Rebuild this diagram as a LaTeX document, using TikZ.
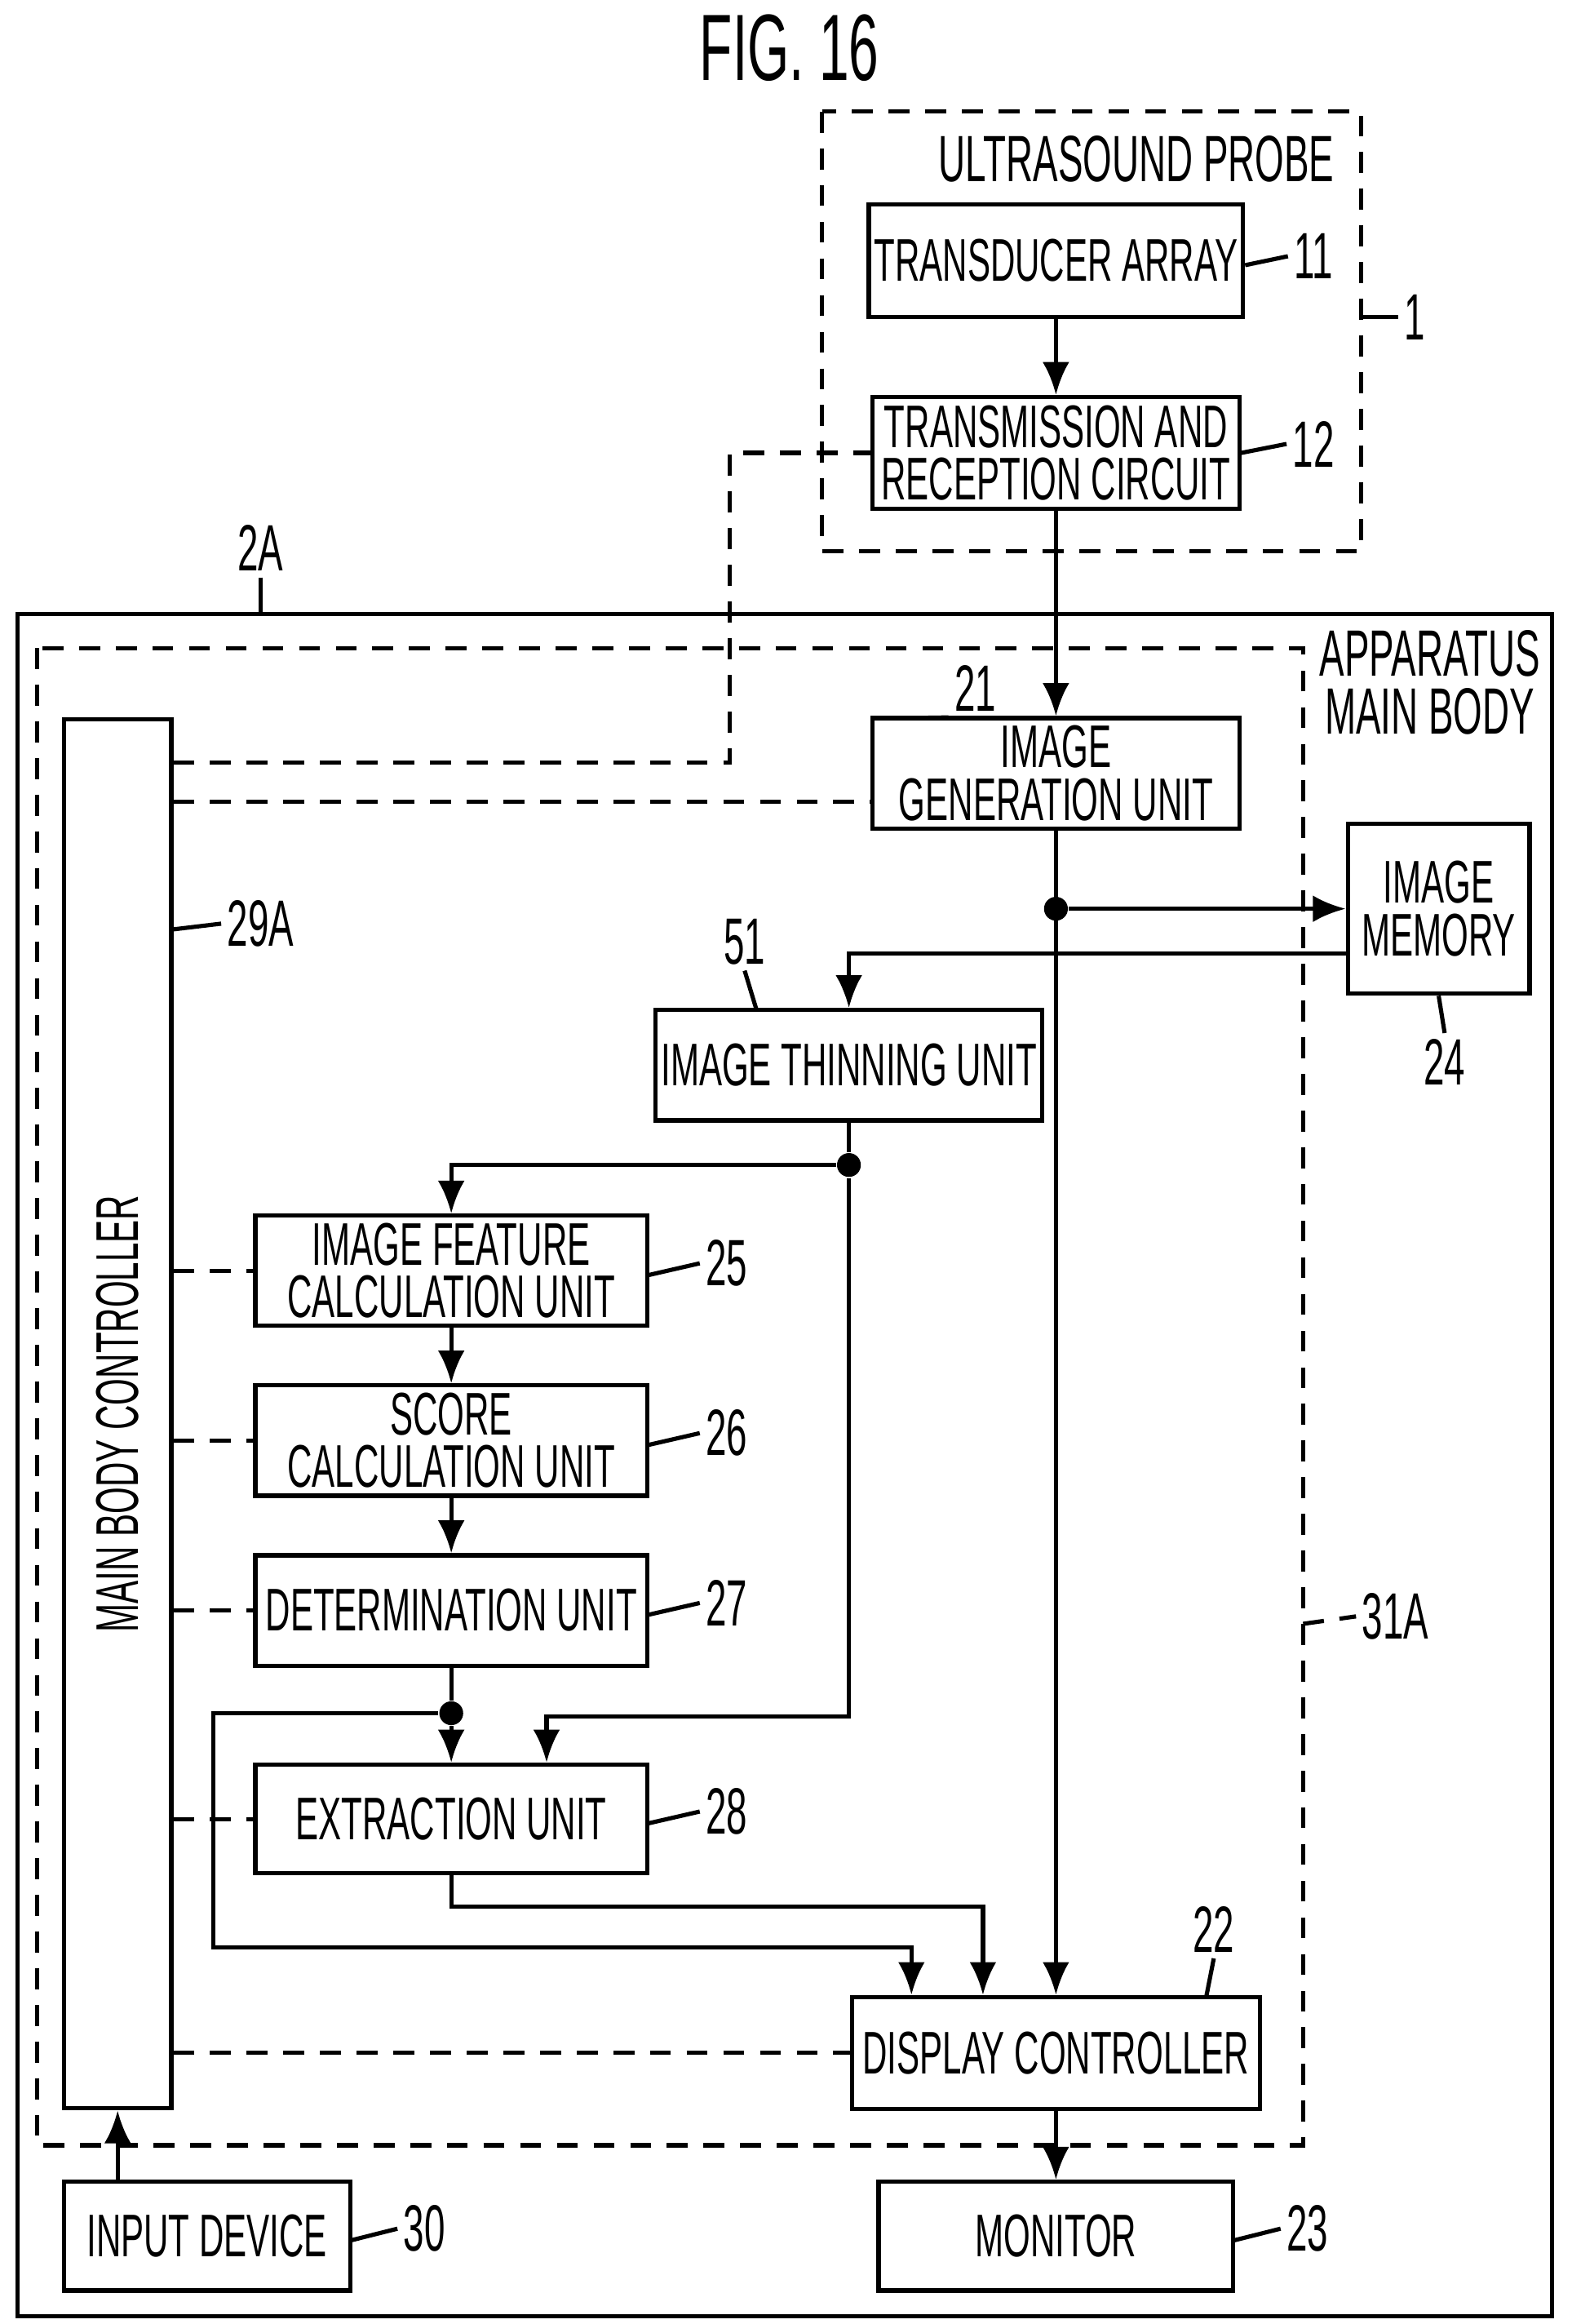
\documentclass[tikz,border=0pt]{standalone}
\usepackage{fontspec}
\setmainfont{Liberation Sans}[FakeStretch=0.57]
\usetikzlibrary{arrows.meta}
\tikzset{
  box/.style={draw, thick, rectangle, align=center, inner sep=1pt, font=\fontsize{11.5}{12}\selectfont},
  lbl/.style={font=\fontsize{12.5}{13}\selectfont, inner sep=1pt},
  conn/.style={thick, -{Latex[length=2.2mm, width=1.8mm]}},
  ctrl/.style={thick, dashed, dash pattern=on 4pt off 3pt},
  dot/.style={circle, fill, inner sep=0pt, minimum size=1.6mm}
}
\begin{document}
\begin{tikzpicture}[x=0.01cm, y=-0.01cm, every node/.style={align=center}]
\useasboundingbox (0,0) rectangle (1055,1560);
% title
\node[font=\fontsize{18}{19}\selectfont] (title) at (530,32) {FIG. 16};
% probe and body frames
\draw[ctrl] (552,75) rectangle (914,370);
\node[lbl, anchor=east] (probe) at (900,107) {ULTRASOUND PROBE};
\draw[thick] (12,412) rectangle (1042,1555);
\draw[ctrl] (25,435) rectangle (875,1440);
\node[lbl] (body) at (960,458) {APPARATUS\\[-2pt]MAIN BODY};
% boxes
\node[box, minimum width=2.46cm, minimum height=0.76cm] (ta) at (709,175) {TRANSDUCER ARRAY};
\node[box, minimum width=2.46cm, minimum height=0.75cm] (trc) at (709,304) {TRANSMISSION AND\\[-2pt]RECEPTION CIRCUIT};
\node[box, minimum width=0.72cm, minimum height=9.32cm] (mbc) at (79,949) {};
\node[font=\fontsize{11.5}{12}\selectfont, rotate=90] (mbct) at (79,949) {MAIN BODY CONTROLLER};
\node[box, minimum width=2.46cm, minimum height=0.74cm] (igu) at (709,519) {IMAGE\\[-2pt]GENERATION UNIT};
\node[box, minimum width=1.22cm, minimum height=1.14cm] (mem) at (966,610) {IMAGE\\[-2pt]MEMORY};
\node[box, minimum width=2.47cm, minimum height=0.74cm] (thin) at (570,715) {IMAGE THINNING UNIT};
\node[box, minimum width=2.63cm, minimum height=0.74cm] (feat) at (303,853) {IMAGE FEATURE\\[-2pt]CALCULATION UNIT};
\node[box, minimum width=2.63cm, minimum height=0.74cm] (score) at (303,967) {SCORE\\[-2pt]CALCULATION UNIT};
\node[box, minimum width=2.63cm, minimum height=0.74cm] (det) at (303,1081) {DETERMINATION UNIT};
\node[box, minimum width=2.63cm, minimum height=0.73cm] (ext) at (303,1221) {EXTRACTION UNIT};
\node[box, minimum width=2.74cm, minimum height=0.75cm] (dc) at (709,1378) {DISPLAY CONTROLLER};
\node[box, minimum width=1.92cm, minimum height=0.73cm] (inp) at (139,1501) {INPUT DEVICE};
\node[box, minimum width=2.38cm, minimum height=0.73cm] (mon) at (709,1501) {MONITOR};
% reference numerals
\node[lbl] (n11) at (882,172) {11};
\node[lbl] (n12) at (882,298) {12};
\node[lbl] (n1) at (950,213) {1};
\node[lbl] (n2a) at (175,368) {2A};
\node[lbl] (n21) at (655,462) {21};
\node[lbl] (n29a) at (175,620) {29A};
\node[lbl] (n24) at (970,713) {24};
\node[lbl] (n51) at (500,632) {51};
\node[lbl] (n25) at (488,848) {25};
\node[lbl] (n26) at (488,962) {26};
\node[lbl] (n27) at (488,1076) {27};
\node[lbl] (n28) at (488,1216) {28};
\node[lbl] (n31a) at (937,1085) {31A};
\node[lbl] (n22) at (815,1295) {22};
\node[lbl] (n30) at (285,1496) {30};
\node[lbl] (n23) at (878,1496) {23};
\draw[thick] (ta.east |- 0,178) -- (n11.west);
\draw[thick] (trc.east |- 0,304) -- (n12.west);
\draw[thick] (914,213) -- (n1.west);
\draw[thick] (n2a.south) -- (175,412);
\draw[thick] (n21.south west) -- (609,482);
\draw[thick] (115,624) -- (n29a.west);
\draw[thick] (mem.south) -- (n24.north);
\draw[thick] (n51.south) -- (508,678);
\draw[thick] (435,856) -- (n25.west);
\draw[thick] (435,970) -- (n26.west);
\draw[thick] (435,1084) -- (n27.west);
\draw[thick] (435,1224) -- (n28.west);
\draw[ctrl] (875,1090) -- (n31a.west);
\draw[thick] (n22.south) -- (810,1340);
\draw[thick] (235,1504) -- (n30.west);
\draw[thick] (828,1504) -- (n23.west);
% signal path
\draw[conn] (ta) -- (trc);
\draw[conn] (trc) -- (igu);
\node[dot] (d1) at (709,610) {};
\draw[conn] (igu) -- (dc);
\draw[conn] (d1) -- (mem.west |- d1);
\draw[conn] (mem.west |- 0,640) -| (thin.north);
\node[dot] (d2) at (570,782) {};
\draw[thick] (thin) -- (d2);
\draw[conn] (d2) -| (feat.north);
\draw[conn] (d2) |- (367,1152) -- (ext.north -| 367,0);
\draw[conn] (feat) -- (score);
\draw[conn] (score) -- (det);
\node[dot] (d3) at (303,1150) {};
\draw[thick] (det) -- (d3);
\draw[conn] (d3) -- (ext);
\draw[conn] (d3) -- (143,1150) |- (612,1307) -- (dc.north -| 612,0);
\draw[conn] (ext) |- (660,1280) -- (dc.north -| 660,0);
\draw[conn] (dc) -- (mon);
\draw[conn] (inp.north -| mbc) -- (mbc.south);
% control lines
\draw[ctrl] (mbc.east |- 0,512) -| (490,304) -- (trc.west);
\draw[ctrl] (mbc.east |- 0,538) -- (igu.west |- 0,538);
\draw[ctrl] (mbc.east |- feat) -- (feat.west);
\draw[ctrl] (mbc.east |- score) -- (score.west);
\draw[ctrl] (mbc.east |- det) -- (det.west);
\draw[ctrl] (mbc.east |- ext) -- (ext.west);
\draw[ctrl] (mbc.east |- dc) -- (dc.west);
\end{tikzpicture}
\end{document}
